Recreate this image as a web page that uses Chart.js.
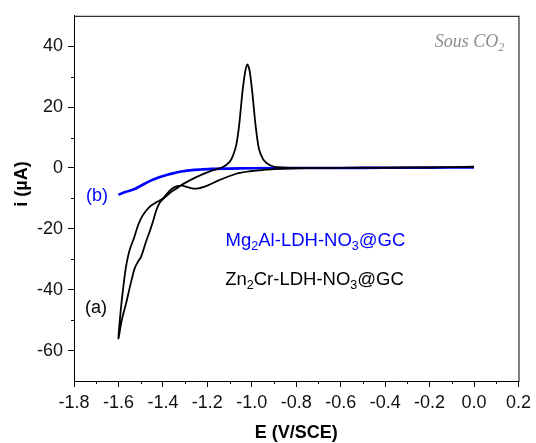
<!DOCTYPE html>
<html>
<head>
<meta charset="utf-8">
<script src="https://cdn.jsdelivr.net/npm/chart.js@4/dist/chart.umd.min.js"></script>
<style>
  html, body { margin: 0; padding: 0; background: #fff; }
  #cv { display: block; }
</style>
</head>
<body>
<canvas id="cv" width="536" height="443"></canvas>
<script>
// Zn2Cr-LDH-NO3@GC : scan 0 -> -1.6 V
const znForwardE = [0.0, -0.2, -0.4, -0.6, -0.8, -0.9, -0.97, -1.0, -1.07, -1.15, -1.2, -1.25, -1.285, -1.315,
  -1.345, -1.37, -1.4, -1.43, -1.46, -1.49, -1.51, -1.53, -1.55, -1.565, -1.578, -1.59, -1.6];
const znForwardI = [0.3, 0.2, 0.1, 0.05, -0.1, -0.4, -0.8, -1.0, -1.9, -4.1, -5.8, -6.8, -6.4, -5.8,
  -6.2, -7.5, -10.0, -11.3, -12.8, -15.5, -18.5, -23, -27, -32, -39, -47, -56];
// return scan -1.6 -> 0 V (anodic peak near -1.02 V)
const znReturnE = [-1.585, -1.564, -1.545, -1.527, -1.51, -1.5, -1.49, -1.475, -1.46, -1.445, -1.43, -1.415,
  -1.39, -1.37, -1.34, -1.31, -1.25, -1.18, -1.13, -1.1, -1.085, -1.07, -1.057, -1.042, -1.03, -1.02,
  -1.01, -0.998, -0.983, -0.968, -0.95, -0.935, -0.915, -0.89, -0.8, -0.6, -0.4, -0.2, 0.0];
const znReturnI = [-50, -44, -38, -33, -30.5, -29.5, -27.5, -24, -21, -17.7, -14, -11.5,
  -9.6, -8.3, -6.8, -5.3, -3.0, -0.9, 0.3, 2.0, 4.0, 7.5, 14, 25, 31.5, 34,
  32, 25, 14, 6.3, 3.0, 1.7, 0.8, 0.3, 0.0, 0.0, 0.05, 0.15, 0.4];
// Mg2Al-LDH-NO3@GC
const mgE = [-1.6, -1.57, -1.53, -1.48, -1.45, -1.41, -1.38, -1.35, -1.31, -1.27, -1.23, -1.18, -1.1, -1.0,
  -0.8, -0.6, -0.4, -0.2, 0.0];
const mgI = [-8.8, -7.9, -7.0, -5.1, -4.0, -2.9, -2.2, -1.7, -1.1, -0.7, -0.5, -0.3, -0.2, -0.1,
  0.0, 0.0, 0.05, 0.1, 0.2];

const xTickLabels = [-1.8, -1.6, -1.4, -1.2, -1.0, -0.8, -0.6, -0.4, -0.2, 0.0, 0.2];
const yTickLabels = [-60, -40, -20, 0, 20, 40];

const FONT = "'Liberation Sans', Arial, sans-serif";

const toPts = (xs, ys) => xs.map((v, k) => ({x: v, y: ys[k]}));
const isMajorX = v => xTickLabels.some(t => Math.abs(t - v) < 1e-6);
const isMajorY = v => yTickLabels.some(t => Math.abs(t - v) < 1e-6);

function richText(ctx, parts, x0, yBase, size, color, style, family, align) {
  ctx.fillStyle = color;
  ctx.textBaseline = "alphabetic";
  ctx.textAlign = "left";
  let w = 0;
  parts.forEach(p => {
    ctx.font = `${style} ${p.sub ? size * 0.68 : size}px ${family}`;
    w += ctx.measureText(p.t).width;
  });
  let x = align === "right" ? x0 - w : x0;
  parts.forEach(p => {
    ctx.font = `${style} ${p.sub ? size * 0.68 : size}px ${family}`;
    ctx.fillText(p.t, x, yBase + (p.sub ? size * 0.24 : 0));
    x += ctx.measureText(p.t).width;
  });
}

const extras = {
  id: "extras",
  afterDraw(chart) {
    const {ctx, chartArea: a, scales: {x, y}} = chart;
    ctx.save();
    // frame
    ctx.strokeStyle = "#000";
    ctx.lineWidth = 1;
    ctx.strokeRect(a.left + 0.5, a.top + 0.5, a.right - a.left, a.bottom - a.top);
    // minor ticks
    ctx.beginPath();
    x.ticks.forEach(t => {
      if (isMajorX(t.value)) return;
      const px = Math.round(x.getPixelForValue(t.value)) + 0.5;
      ctx.moveTo(px, a.bottom); ctx.lineTo(px, a.bottom + 3);
    });
    y.ticks.forEach(t => {
      if (isMajorY(t.value) || t.value <= -70 || t.value >= 50) return;
      const py = Math.round(y.getPixelForValue(t.value)) + 0.5;
      ctx.moveTo(a.left, py); ctx.lineTo(a.left - 3, py);
    });
    ctx.stroke();

    // axis titles
    ctx.fillStyle = "#000";
    ctx.font = `bold 18px ${FONT}`;
    ctx.textAlign = "center";
    ctx.textBaseline = "middle";
    ctx.fillText("E (V/SCE)", (a.left + a.right) / 2, 433);
    ctx.save();
    ctx.translate(22, 184);
    ctx.rotate(-Math.PI / 2);
    ctx.fillText("i (\u00B5A)", 0, 0);
    ctx.restore();

    // annotations
    const X = v => x.getPixelForValue(v), Y = v => y.getPixelForValue(v);
    richText(ctx, [{t: "(b)"}], X(-1.746), Y(-10.8), 18, "#0000ff", "normal", FONT);
    richText(ctx, [{t: "(a)"}], X(-1.751), Y(-47.7), 18, "#000", "normal", FONT);
    richText(ctx, [{t: "Mg"}, {t: "2", sub: true}, {t: "Al-LDH-NO"}, {t: "3", sub: true}, {t: "@GC"}],
      X(-1.118), Y(-25.6), 18.5, "#0000ff", "normal", FONT);
    richText(ctx, [{t: "Zn"}, {t: "2", sub: true}, {t: "Cr-LDH-NO"}, {t: "3", sub: true}, {t: "@GC"}],
      X(-1.12), Y(-38.3), 18.5, "#000", "normal", FONT);
    richText(ctx, [{t: "Sous CO"}, {t: "2", sub: true}], X(0.137), Y(39.7), 18, "#8c8c8c", "italic",
      "'Liberation Serif', 'Times New Roman', serif", "right");
    ctx.restore();
  }
};

new Chart(document.getElementById("cv"), {
  type: "scatter",
  data: {
    datasets: [
      {
        label: "Zn2Cr-LDH-NO3@GC",
        data: toPts(znForwardE, znForwardI).concat(toPts(znReturnE, znReturnI)),
        showLine: true,
        borderColor: "#000",
        borderWidth: 1.8,
        pointRadius: 0,
        tension: 0.3,
        order: 0
      },
      {
        label: "Mg2Al-LDH-NO3@GC",
        data: toPts(mgE, mgI),
        showLine: true,
        borderColor: "#0000ff",
        borderWidth: 2.6,
        pointRadius: 0,
        tension: 0.3,
        order: 1
      }
    ]
  },
  options: {
    responsive: false,
    animation: false,
    devicePixelRatio: 1,
    layout: {padding: {top: 14, right: 15, left: 0, bottom: 0}},
    plugins: {legend: {display: false}, tooltip: {enabled: false}},
    scales: {
      x: {
        type: "linear",
        min: -1.8, max: 0.2,
        afterFit: s => { s.height = 62; },
        border: {display: true, color: "#000", width: 1},
        grid: {
          drawOnChartArea: false, drawTicks: true, tickLength: 6, tickWidth: 1,
          tickColor: c => isMajorX(c.tick ? c.tick.value : NaN) ? "#000" : "rgba(0,0,0,0)"
        },
        ticks: {
          stepSize: 0.1, autoSkip: false, maxRotation: 0, padding: 5,
          color: "#111", font: {family: FONT, size: 18},
          callback: v => {
            const r = Math.round(v * 10) / 10;
            return isMajorX(r) ? r.toFixed(1) : "";
          }
        }
      },
      y: {
        type: "linear",
        min: -70, max: 50,
        afterFit: s => { s.width = 74; },
        border: {display: true, color: "#000", width: 1},
        grid: {
          drawOnChartArea: false, drawTicks: true, tickLength: 6, tickWidth: 1,
          tickColor: c => isMajorY(c.tick ? c.tick.value : NaN) ? "#000" : "rgba(0,0,0,0)"
        },
        ticks: {
          stepSize: 10, autoSkip: false, padding: 5,
          color: "#111", font: {family: FONT, size: 18},
          callback: v => isMajorY(v) ? String(Math.round(v)) : ""
        }
      }
    }
  },
  plugins: [extras]
});
</script>
</body>
</html>
